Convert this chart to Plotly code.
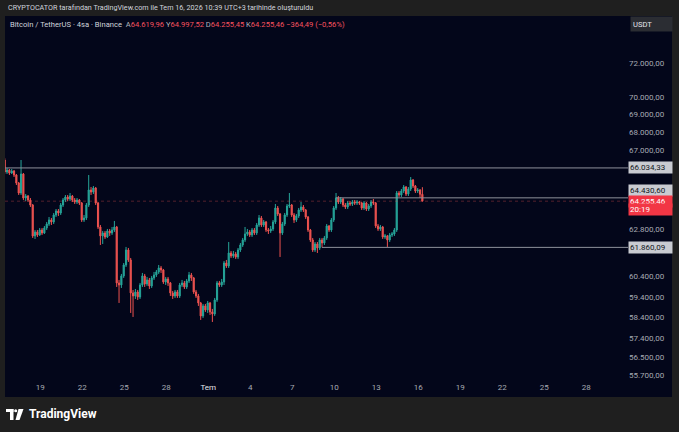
import math
import pandas as pd
import plotly.graph_objects as go

# ---------------- data ----------------
candle_start = "2026-06-16 11:00"
n_candles = 180

opens = [66466,65814,65922,65760,65868,65652,65222,64688,65706,64423,
 64529,64317,64053,62444,62649,62495,62752,62598,62855,63062,
 63270,63166,63530,63738,63634,64053,64317,64476,64370,64529,
 64317,64212,64317,64159,63270,63374,64053,64847,64741,64954,
 64159,62907,62444,62598,62392,62701,62598,62752,62907,60078,
 59979,60425,60973,61729,61224,59587,59440,59636,59391,59979,
 60425,60029,60227,59930,60326,60474,60624,60823,60723,60127,
 60276,60078,59587,59440,59636,59440,59979,60078,59881,60177,
 60474,60326,59636,59440,59099,58471,58954,58760,59099,58664,
 58567,59245,60078,59979,60127,61073,60923,61577,61426,61527,
 61375,61729,61983,62239,62546,62649,62495,62752,62598,63010,
 63374,63010,63166,62752,62701,62804,63166,63896,63582,62598,
 63062,63530,64001,64053,63530,63270,63478,63791,63948,63791,
 63426,62752,62239,61729,62034,61831,62239,62085,62341,62959,
 62752,63270,63896,64430.60,64212,64370,64053,63948,64159,64106,
 64212,64159,64212,64159,63896,64159,63843,64001,64212,64159,
 62959,62804,62907,62392,62444,62239,62495,62546,62752,64688,
 64582,64794,65007,64635,64900,65383,65061,64794,64847,64619.96]

highs = [66575,66031,65977,65977,65922,65706,65276,66466,65760,64635,
 64582,64423,64106,62752,62752,62855,62855,62959,63166,63426,
 63374,63634,63843,63843,64159,64423,64582,64582,64688,64582,
 64423,64423,64370,64212,63530,64159,65652,65007,65061,65007,
 64212,63010,62701,62701,62804,62804,62907,63218,62959,60227,
 60524,61073,61882,61831,61325,59733,59782,59733,60078,60574,
 60524,60375,60326,60425,60624,60723,60973,60923,60773,60375,
 60375,60127,59684,59733,59733,60078,60227,60177,60276,60624,
 60574,60375,59733,59538,59148,59051,59051,59196,59148,58809,
 59342,60177,60177,60276,61174,61224,62136,61679,61679,61628,
 61831,62085,62341,62907,62804,62752,62855,62855,63114,63530,
 63478,63270,63218,62855,62959,63270,64106,64001,63634,63166,
 63634,64106,64688,64106,63634,63582,63896,64212,64053,63843,
 63478,62804,62341,62136,62136,62341,62341,62444,63062,63010,
 63374,64001,64688,64529,64476,64423,64159,64264,64264,64317,
 64317,64317,64264,64212,64264,64212,64106,64317,64370,64212,
 63062,63010,62959,62546,62495,62598,62649,62855,64794,64794,
 64900,65114,65061,65007,65544,65437,65114,64954,64900,64997.52]

lows = [65706,65706,65652,65706,65544,65114,64582,64582,64317,64264,
 64212,63948,62341,62290,62392,62444,62495,62546,62752,62959,
 63010,63062,63426,63478,63530,63948,64212,64264,64264,64212,
 64106,64106,64053,63166,63166,63270,63948,64582,64635,64053,
 62804,61983,62034,62290,62341,62444,62495,62649,59881,59099,
 59832,60326,60873,61124,58615,58423,59294,59245,59294,59881,
 59881,59930,59782,59832,60227,60375,60524,60574,60029,59979,
 59930,59440,59294,59342,59342,59342,59881,59782,59782,60078,
 60177,59538,59342,58954,58279,58375,58664,58615,58519,58183,
 58471,59148,59881,59881,59979,60823,60823,61325,61325,61275,
 61275,61628,61882,62136,62444,62392,62392,62495,62495,62907,
 62907,62907,62649,62546,62598,62701,63062,63478,61375,62495,
 62959,63426,63896,63426,63114,63166,63374,63686,63686,63322,
 62649,62136,61628,61628,61577,61729,61860.09,61983,62239,62649,
 62649,63166,63791,64106,64106,63948,63843,63843,64001,64001,
 64053,64053,64053,63791,63791,63738,63738,63896,64053,62855,
 62701,62701,62290,62290,61882,62136,62392,62444,62649,64476,
 64476,64688,64529,64529,64794,64954,64688,64688,64423,64255.45]

closes = [65814,65922,65760,65868,65652,65222,64688,65706,64423,64529,
 64317,64053,62444,62649,62495,62752,62598,62855,63062,63270,
 63166,63530,63738,63634,64053,64317,64476,64370,64529,64317,
 64212,64317,64159,63270,63374,64053,64847,64741,64954,64159,
 62907,62444,62598,62392,62701,62598,62752,62907,60078,59979,
 60425,60973,61729,61224,59587,59440,59636,59391,59979,60425,
 60029,60227,59930,60326,60474,60624,60823,60723,60127,60276,
 60078,59587,59440,59636,59440,59979,60078,59881,60177,60474,
 60326,59636,59440,59099,58471,58954,58760,59099,58664,58567,
 59245,60078,59979,60127,61073,60923,61577,61426,61527,61375,
 61729,61983,62239,62546,62649,62495,62752,62598,63010,63374,
 63010,63166,62752,62701,62804,63166,63896,63582,62598,63062,
 63530,64001,64053,63530,63270,63478,63791,63948,63791,63426,
 62752,62239,61729,62034,61831,62239,62085,62341,62959,62752,
 63270,63896,64430.60,64212,64370,64053,63948,64159,64106,64212,
 64159,64212,64159,63896,64159,63843,64001,64212,64159,62959,
 62804,62907,62392,62444,62239,62495,62546,62752,64688,64582,
 64794,65007,64635,64900,65383,65061,64794,64847,64619.96,64255.46]

level_top = 66034.33
level_mid = 64430.60
level_low = 61860.09
last_price = 64255.46
countdown = "20:19"
mid_start_idx = 142
low_start_idx = 136

y_tickvals = [55700, 56500, 57400, 58400, 59400, 60400, 61800, 62800,
              65000, 67000, 68000, 69000, 70000, 72000]
y_ticktext = ["55.700,00", "56.500,00", "57.400,00", "58.400,00", "59.400,00",
              "60.400,00", "61.800,00", "62.800,00", "65.000,00", "67.000,00",
              "68.000,00", "69.000,00", "70.000,00", "72.000,00"]

x_tickvals = ["2026-06-19", "2026-06-22", "2026-06-25", "2026-06-28", "2026-07-01",
              "2026-07-04", "2026-07-07", "2026-07-10", "2026-07-13", "2026-07-16",
              "2026-07-19", "2026-07-22", "2026-07-25", "2026-07-28"]
x_ticktext = ["19", "22", "25", "28", "<span style='color:#e4e6ec'>Tem</span>", "4", "7",
              "10", "13", "16", "19", "22", "25", "28"]

x_range = ["2026-06-16 11:30", "2026-07-30 23:30"]
y_range_log = [4.74372, 4.86900]

# ---------------- style ----------------
UP = "#26a69a"
DN = "#ef5350"
PANE = "#03061a"
FRAME = "#1f1f1f"
TXT = "#a7aab3"
FONT = "Roboto"

W, H = 679, 432
L, R, T, B = 5, 628, 30, 381


def px(xp):
    return (xp - L) / (R - L)


def py(yp):
    return (B - yp) / (B - T)


dates = pd.date_range(candle_start, periods=n_candles, freq="4h")

fig = go.Figure()

# level lines
fig.add_trace(go.Scatter(x=x_range, y=[level_top, level_top], mode="lines",
                         line=dict(color="#8e919b", width=1), hoverinfo="skip", showlegend=False))
fig.add_trace(go.Scatter(x=x_range, y=[last_price, last_price], mode="lines",
                         line=dict(color="rgba(239,83,80,0.35)", width=1, dash="dot"),
                         hoverinfo="skip", showlegend=False))
fig.add_trace(go.Scatter(x=[dates[mid_start_idx], x_range[1]], y=[level_mid, level_mid], mode="lines",
                         line=dict(color="#8e919b", width=1), hoverinfo="skip", showlegend=False))
fig.add_trace(go.Scatter(x=[dates[low_start_idx], x_range[1]], y=[level_low, level_low], mode="lines",
                         line=dict(color="#8e919b", width=1), hoverinfo="skip", showlegend=False))

fig.add_trace(go.Candlestick(
    x=dates, open=opens, high=highs, low=lows, close=closes,
    increasing=dict(line=dict(color=UP, width=1), fillcolor=UP),
    decreasing=dict(line=dict(color=DN, width=1), fillcolor=DN),
    whiskerwidth=0, showlegend=False, hoverinfo="skip"))

shapes = [
    dict(type="rect", xref="paper", yref="paper", layer="below",
         x0=px(5), x1=px(672), y0=py(397), y1=py(16), fillcolor=PANE, line=dict(width=0)),
    # TradingView logo (approximation)
    dict(type="rect", xref="paper", yref="paper", x0=px(6), x1=px(13.5), y0=py(412), y1=py(409),
         fillcolor="#ffffff", line=dict(width=0)),
    dict(type="rect", xref="paper", yref="paper", x0=px(10), x1=px(13.5), y0=py(420), y1=py(409),
         fillcolor="#ffffff", line=dict(width=0)),
    dict(type="circle", xref="paper", yref="paper", x0=px(14.2), x1=px(17.2), y0=py(412.2), y1=py(409.2),
         fillcolor="#ffffff", line=dict(width=0)),
    dict(type="path", xref="paper", yref="paper",
         path=f"M {px(18.5)},{py(409)} L {px(23.5)},{py(409)} L {px(19.5)},{py(420)} L {px(15.5)},{py(420)} Z",
         fillcolor="#ffffff", line=dict(width=0)),
]

red = "#f7525f"
gry = "#b2b5be"
header = (f"<span style='color:#d1d4dc'>Bitcoin / TetherUS · 4sa · Binance</span>  "
          f"<span style='color:{gry}'>A</span><span style='color:{red}'>64.619,96</span> "
          f"<span style='color:{gry}'>Y</span><span style='color:{red}'>64.997,52</span> "
          f"<span style='color:{gry}'>D</span><span style='color:{red}'>64.255,45</span> "
          f"<span style='color:{gry}'>K</span><span style='color:{red}'>64.255,46</span> "
          f"<span style='color:{red}'>−364,49 (−0,56%)</span>")


def price_box(price, text, shift, bg, fg):
    return dict(xref="paper", yref="y", x=1.0, y=math.log10(price), yshift=shift,
                xanchor="left", yanchor="middle", text=text, showarrow=False,
                bgcolor=bg, width=41, height=9, align="left", borderpad=1,
                font=dict(family=FONT, size=8, color=fg))


annotations = [
    dict(xref="paper", yref="paper", x=px(6), y=py(8), xanchor="left", yanchor="middle",
         text="CRYPTOCATOR tarafından TradingView.com ile Tem 16, 2026 10:39 UTC+3 tarihinde oluşturuldu",
         showarrow=False, font=dict(family=FONT, size=7.2, color="#d1d4dc")),
    dict(xref="paper", yref="paper", x=px(8), y=py(24), xanchor="left", yanchor="middle",
         text=header, showarrow=False, font=dict(family=FONT, size=7.6, color="#d1d4dc")),
    dict(xref="paper", yref="paper", x=px(630), y=py(24), xanchor="left", yanchor="middle",
         text="USDT", showarrow=False, bgcolor="#2b2d33", width=37, height=10, align="left", borderpad=2,
         font=dict(family=FONT, size=7.6, color="#e4e6ec")),
    dict(xref="paper", yref="paper", x=px(27), y=py(414), xanchor="left", yanchor="middle",
         text="<b>TradingView</b>", showarrow=False, font=dict(family=FONT, size=12, color="#ffffff")),
    price_box(level_top, "66.034,33", 0, "#c9cbd1", "#131722"),
    price_box(level_mid, "64.430,60", 7, "#c9cbd1", "#131722"),
    price_box(last_price, "64.255,46", -0.5, "#f23645", "#ffffff"),
    price_box(last_price, countdown, -8.5, "#f23645", "#ffffff"),
    price_box(level_low, "61.860,09", 0, "#c9cbd1", "#131722"),
]

fig.update_layout(
    width=W, height=H,
    margin=dict(l=L, r=W - R, t=T, b=H - B),
    paper_bgcolor=FRAME, plot_bgcolor=PANE,
    shapes=shapes, annotations=annotations,
    showlegend=False,
    xaxis=dict(type="date", range=x_range, tickvals=x_tickvals, ticktext=x_ticktext,
               showgrid=False, zeroline=False, showline=False, ticks="",
               tickfont=dict(family=FONT, size=8, color=TXT),
               rangeslider=dict(visible=False), fixedrange=True),
    yaxis=dict(type="log", side="right", range=y_range_log, tickvals=y_tickvals, ticktext=y_ticktext,
               showgrid=False, zeroline=False, showline=False, ticks="",
               tickfont=dict(family=FONT, size=8, color=TXT), fixedrange=True),
)

fig.write_html("out.html", config={"displayModeBar": False},
               post_script="document.body.style.margin='0';document.body.style.background='#1f1f1f';")
